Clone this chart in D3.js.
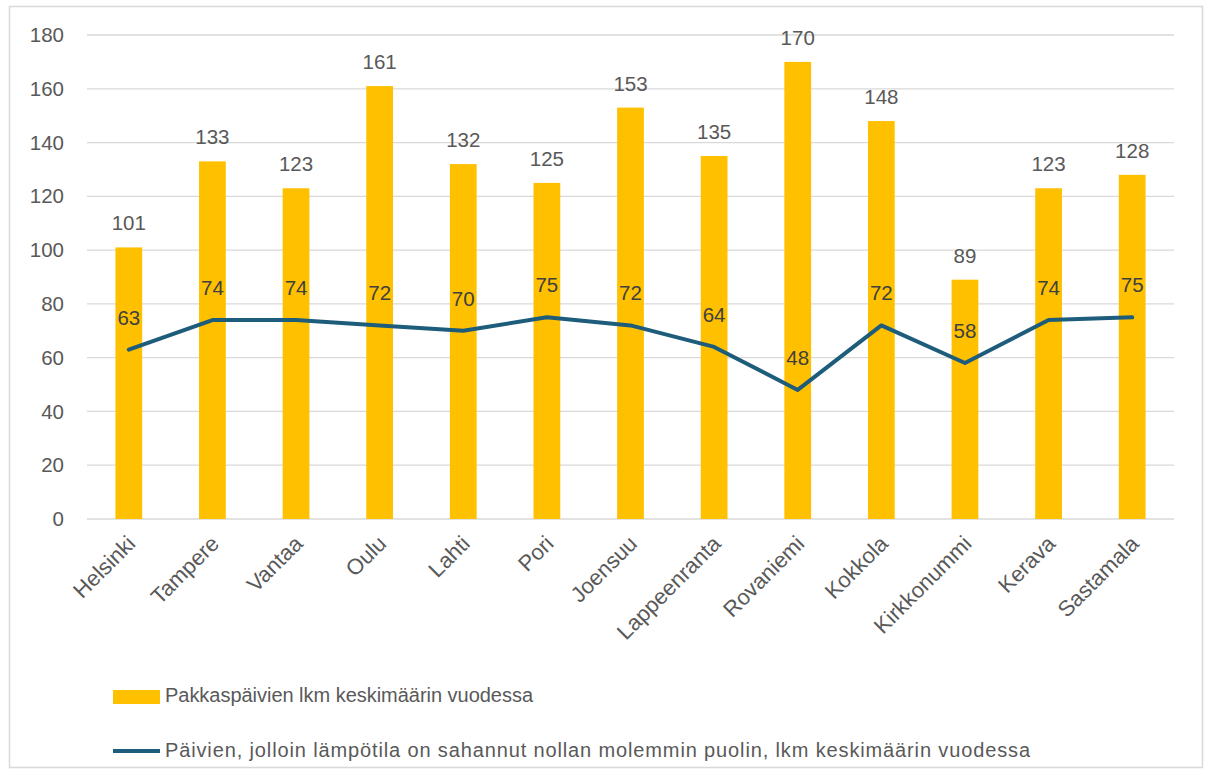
<!DOCTYPE html>
<html><head><meta charset="utf-8">
<script src="https://cdn.jsdelivr.net/npm/d3@7"></script>
<style>
body{margin:0;background:#fff;}
svg{display:block;}
</style></head>
<body>
<svg id="chart" width="1208" height="771"></svg>
<script>
const categories = ["Helsinki","Tampere","Vantaa","Oulu","Lahti","Pori","Joensuu","Lappeenranta","Rovaniemi","Kokkola","Kirkkonummi","Kerava","Sastamala"];
const frostDays = [101,133,123,161,132,125,153,135,170,148,89,123,128];
const zeroCrossDays = [63,74,74,72,70,75,72,64,48,72,58,74,75];
const yTicks = [0,20,40,60,80,100,120,140,160,180];
const seriesNames = ["Pakkaspäivien lkm keskimäärin vuodessa","Päivien, jolloin lämpötila on sahannut nollan molemmin puolin, lkm keskimäärin vuodessa"];

(function(){
const svg = d3.select("#chart");
const mLeft = 87, mRight = 1174, mTop = 35, mBottom = 519;
const font = "'Liberation Sans', Arial, sans-serif";
const gray = "#595959";

svg.append("rect").attr("x",9.5).attr("y",6.5).attr("width",1193).attr("height",761)
  .attr("fill","#fff").attr("stroke","#d9d9d9").attr("stroke-width",1.5);

const x = d3.scaleBand().domain(categories).range([mLeft,mRight]).paddingInner(0.68).paddingOuter(0.34);
const y = d3.scaleLinear().domain([0,180]).range([mBottom,mTop]);

svg.append("g").selectAll("line").data(yTicks).join("line")
  .attr("x1",mLeft).attr("x2",mRight).attr("y1",d=>y(d)).attr("y2",d=>y(d))
  .attr("stroke","#d9d9d9").attr("stroke-width",1.3);

const yAxis = d3.axisLeft(y).tickValues(yTicks).tickSize(0).tickPadding(0);
const gy = svg.append("g").attr("transform",`translate(${64},0)`).call(yAxis);
gy.select(".domain").remove();
gy.selectAll("text").attr("font-family",font).attr("font-size",20.5).attr("fill",gray);

svg.append("g").selectAll("rect").data(categories).join("rect")
  .attr("x",d=>x(d)).attr("width",x.bandwidth())
  .attr("y",(d,i)=>y(frostDays[i])).attr("height",(d,i)=>y(0)-y(frostDays[i]))
  .attr("fill","#ffc000");

svg.append("g").selectAll("text").data(categories).join("text")
  .attr("x",d=>x(d)+x.bandwidth()/2).attr("y",(d,i)=>y(frostDays[i])-17)
  .attr("text-anchor","middle").attr("font-family",font).attr("font-size",20.5).attr("fill",gray)
  .text((d,i)=>frostDays[i]);

const cx = d=>x(d)+x.bandwidth()/2;
const line = d3.line().x((d,i)=>cx(categories[i])).y(d=>y(d));
svg.append("path").datum(zeroCrossDays).attr("d",line)
  .attr("fill","none").attr("stroke","#1d5c7a").attr("stroke-width",4).attr("stroke-linejoin","round").attr("stroke-linecap","round");

svg.append("g").selectAll("text").data(categories).join("text")
  .attr("x",d=>cx(d)).attr("y",(d,i)=>y(zeroCrossDays[i])-25)
  .attr("text-anchor","middle").attr("font-family",font).attr("font-size",20.5).attr("fill","#404040")
  .text((d,i)=>zeroCrossDays[i]);

const xAxis = d3.axisBottom(x).tickSize(0).tickPadding(0);
const gx = svg.append("g").attr("transform",`translate(0,${mBottom})`).call(xAxis);
gx.select(".domain").remove();
gx.selectAll("text")
  .attr("font-family",font).attr("font-size",22).attr("fill",gray)
  .attr("text-anchor","end").attr("dy",null).attr("y",0)
  .attr("transform","translate(8,26) rotate(-45)");

const lg = svg.append("g").attr("font-family",font).attr("font-size",20).attr("fill",gray);
lg.append("rect").attr("x",113).attr("y",690).attr("width",47).attr("height",14).attr("fill","#ffc000");
lg.append("text").attr("x",165).attr("y",702).attr("textLength",368).attr("lengthAdjust","spacing").text(seriesNames[0]);
lg.append("line").attr("x1",113).attr("x2",160).attr("y1",751).attr("y2",751).attr("stroke","#1d5c7a").attr("stroke-width",4);
lg.append("text").attr("x",165).attr("y",757).attr("textLength",865).attr("lengthAdjust","spacing").text(seriesNames[1]);
})();
</script>
</body></html>
